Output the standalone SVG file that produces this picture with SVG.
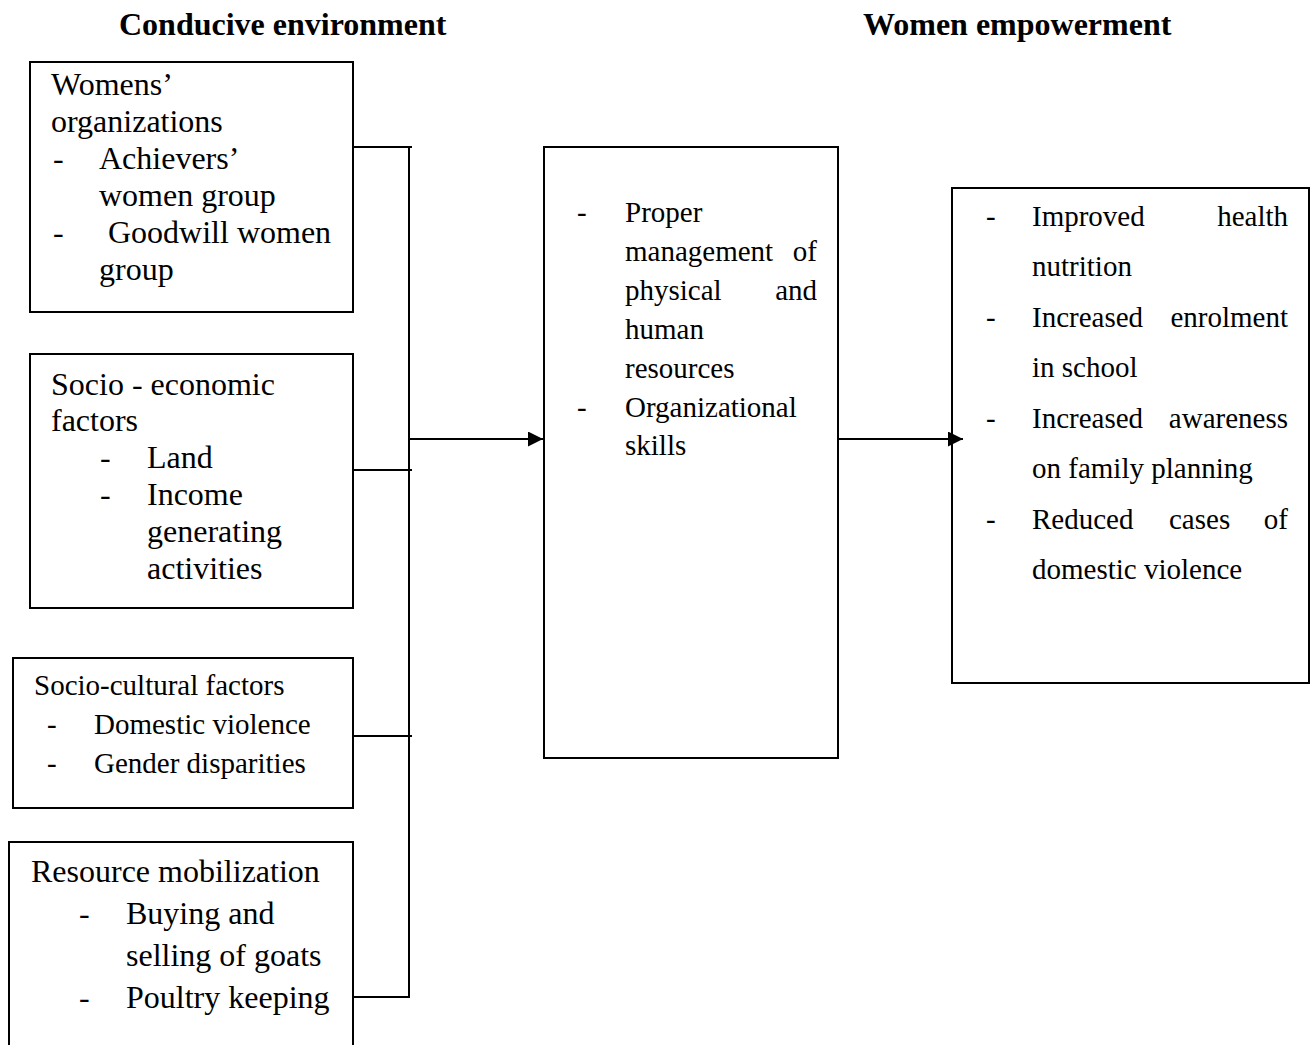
<svg xmlns="http://www.w3.org/2000/svg" width="1312" height="1045" viewBox="0 0 1312 1045">
<defs>
<style>
.box{fill:#fff;stroke:#000;stroke-width:2}
.ln{fill:none;stroke:#000;stroke-width:2}
text{font-family:"Liberation Serif","Times New Roman",serif;fill:#000}
.t32{font-size:32px}
.t29{font-size:29px}
.title{font-size:32px;font-weight:bold}
.end{text-anchor:end}
</style>
<marker id="arr" markerWidth="16" markerHeight="16" refX="15" refY="7.5" orient="auto" markerUnits="userSpaceOnUse">
<path d="M0,0 L15,7.5 L0,15 Z" fill="#000"/>
</marker>
</defs>
<rect width="1312" height="1045" fill="#fff"/>
<text class="title" x="119" y="35">Conducive environment</text>
<text class="title" x="863" y="35">Women empowerment</text>

<g id="womens-organizations">
<rect class="box" x="30" y="62" width="323" height="250"/>
<text class="t32" x="51" y="95">Womens’</text>
<text class="t32" x="51" y="132">organizations</text>
<text class="t32" x="53" y="169">-</text>
<text class="t32" x="99" y="169">Achievers’</text>
<text class="t32" x="99" y="206">women group</text>
<text class="t32" x="53" y="243">-</text>
<text class="t32" x="108" y="243">Goodwill women</text>
<text class="t32" x="99" y="280">group</text>
</g>

<g id="socio-economic">
<rect class="box" x="30" y="354" width="323" height="254"/>
<text class="t32" x="51" y="395">Socio - economic</text>
<text class="t32" x="51" y="431">factors</text>
<text class="t32" x="100" y="468">-</text>
<text class="t32" x="147" y="468">Land</text>
<text class="t32" x="100" y="505">-</text>
<text class="t32" x="147" y="505">Income</text>
<text class="t32" x="147" y="542">generating</text>
<text class="t32" x="147" y="579">activities</text>
</g>

<g id="socio-cultural">
<rect class="box" x="13" y="658" width="340" height="150"/>
<text class="t29" x="34" y="695">Socio-cultural factors</text>
<text class="t29" x="47" y="734">-</text>
<text class="t29" x="94" y="734">Domestic violence</text>
<text class="t29" x="47" y="773">-</text>
<text class="t29" x="94" y="773">Gender disparities</text>
</g>

<g id="resource-mobilization">
<rect class="box" x="9" y="842" width="344" height="220"/>
<text class="t32" x="31" y="882">Resource mobilization</text>
<text class="t32" x="79" y="924">-</text>
<text class="t32" x="126" y="924">Buying and</text>
<text class="t32" x="126" y="966">selling of goats</text>
<text class="t32" x="79" y="1008">-</text>
<text class="t32" x="126" y="1008">Poultry keeping</text>
</g>

<g id="management">
<rect class="box" x="544" y="147" width="294" height="611"/>
<text class="t29" x="577" y="222">-</text>
<text class="t29" x="625" y="222">Proper</text>
<text class="t29" x="625" y="261">management</text>
<text class="t29 end" x="817" y="261">of</text>
<text class="t29" x="625" y="300">physical</text>
<text class="t29 end" x="817" y="300">and</text>
<text class="t29" x="625" y="339">human</text>
<text class="t29" x="625" y="378">resources</text>
<text class="t29" x="577" y="417">-</text>
<text class="t29" x="625" y="417">Organizational</text>
<text class="t29" x="625" y="455">skills</text>
</g>

<g id="women-empowerment">
<rect class="box" x="952" y="188" width="357" height="495"/>
<text class="t29" x="986" y="226">-</text>
<text class="t29" x="1032" y="226">Improved</text>
<text class="t29 end" x="1288" y="226">health</text>
<text class="t29" x="1032" y="276">nutrition</text>
<text class="t29" x="986" y="327">-</text>
<text class="t29" x="1032" y="327">Increased</text>
<text class="t29 end" x="1288" y="327">enrolment</text>
<text class="t29" x="1032" y="377">in school</text>
<text class="t29" x="986" y="428">-</text>
<text class="t29" x="1032" y="428">Increased</text>
<text class="t29 end" x="1288" y="428">awareness</text>
<text class="t29" x="1032" y="478">on family planning</text>
<text class="t29" x="986" y="529">-</text>
<text class="t29" x="1032" y="529">Reduced</text>
<text class="t29" x="1169" y="529">cases</text>
<text class="t29 end" x="1288" y="529">of</text>
<text class="t29" x="1032" y="579">domestic violence</text>
</g>

<g id="connectors">
<path class="ln" d="M353,147 H412"/>
<path class="ln" d="M353,470 H412"/>
<path class="ln" d="M353,736 H412"/>
<path class="ln" d="M353,997 H410"/>
<path class="ln" d="M409,147 V997"/>
<path class="ln" d="M408,439 H543" marker-end="url(#arr)"/>
<path class="ln" d="M838,439 H963" marker-end="url(#arr)"/>
</g>
</svg>
